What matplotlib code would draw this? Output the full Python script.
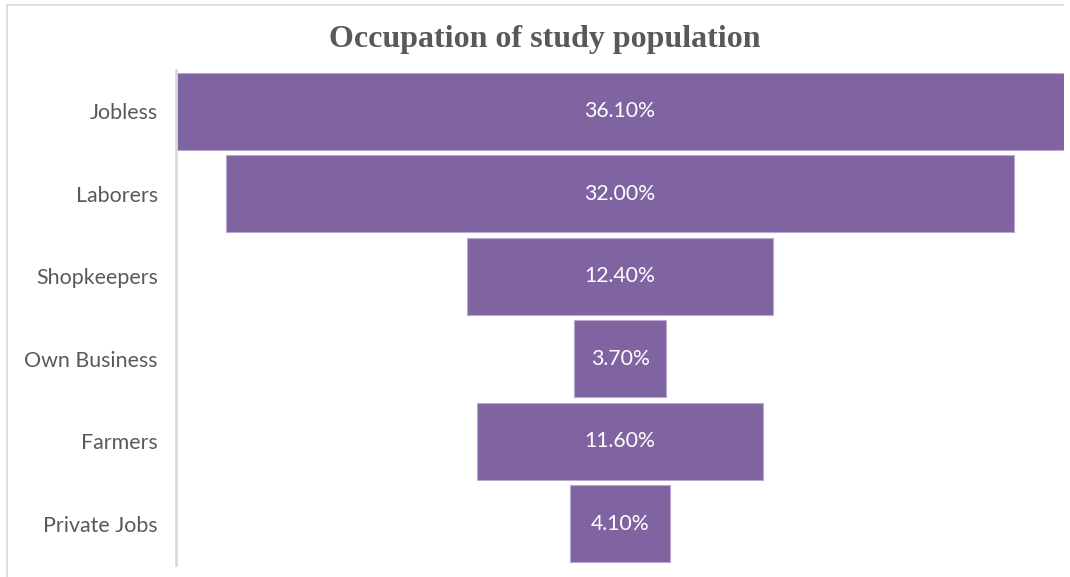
import matplotlib.pyplot as plt
from matplotlib.lines import Line2D

categories = ["Jobless", "Laborers", "Shopkeepers", "Own Business", "Farmers", "Private Jobs"]
values = [36.1, 32.0, 12.4, 3.7, 11.6, 4.1]
value_labels = ["36.10%", "32.00%", "12.40%", "3.70%", "11.60%", "4.10%"]

W, H = 1070, 577
fig = plt.figure(figsize=(W / 100, H / 100), dpi=100)
ax = fig.add_axes([176 / W, 1 - 565 / H, (1064 - 176) / W, (565 - 70) / H])

purple = "#8064a2"
pos = list(range(len(categories)))
ax.barh(pos, values, left=[-v / 2 for v in values], height=0.93,
        color=purple, edgecolor="#b9a8d0", linewidth=0.8)

for p, v, lab in zip(pos, values, value_labels):
    ax.text(0, p, lab, ha="center", va="center", color="white",
            fontsize=15.3, family="Lato")

half = max(values) / 2
ax.set_xlim(-half, half)
ax.set_ylim(len(categories) - 0.5, -0.5)
ax.set_yticks(pos)
ax.set_yticklabels(categories, fontsize=15.4, family="Lato", color="#595959")
ax.tick_params(axis="y", length=0, pad=13)
ax.set_xticks([])
for s in ["top", "right", "bottom"]:
    ax.spines[s].set_visible(False)
ax.spines["left"].set_color("#d9d9d9")
ax.spines["left"].set_linewidth(2)

fig.text(545 / W, 1 - 40 / H, "Occupation of study population", ha="center", va="center",
         fontsize=23, fontweight="bold", family="Liberation Serif", color="#595959")

# light frame of the chart area
fig.add_artist(Line2D([7 / W, 7 / W], [0, 1 - 5 / H], color="#d9d9d9", lw=1.2, transform=fig.transFigure))
fig.add_artist(Line2D([7 / W, 1063 / W], [1 - 5 / H, 1 - 5 / H], color="#d9d9d9", lw=1.2, transform=fig.transFigure))

fig.savefig("out.png", dpi=100, facecolor="white")
